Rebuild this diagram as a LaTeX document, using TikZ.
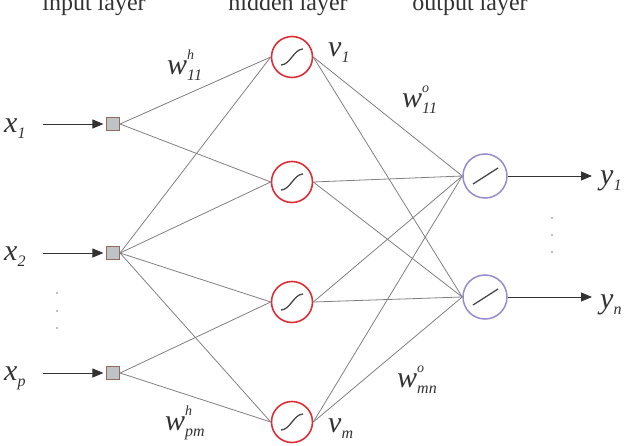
\documentclass[tikz,border=0pt]{standalone}
\usepackage{fontspec}
\setmainfont{Liberation Serif}
\usetikzlibrary{arrows.meta}
\definecolor{lgray}{RGB}{128,128,128}
\definecolor{hred}{RGB}{225,45,55}
\definecolor{olav}{RGB}{150,140,205}
\definecolor{sqfill}{RGB}{190,195,200}
\definecolor{sqdraw}{RGB}{150,105,95}
\definecolor{txt}{RGB}{50,50,50}
\newcommand\wlab[3]{\fontsize{30}{30}\selectfont\itshape #1\makebox[0pt][l]{\raisebox{15pt}{\fontsize{14}{14}\selectfont #2}}\raisebox{-6pt}{\fontsize{16}{16}\selectfont #3}}
\newcommand\slab[2]{\fontsize{30}{30}\selectfont\itshape #1\raisebox{-6pt}{\fontsize{16}{16}\selectfont #2}}
\begin{document}
\begin{tikzpicture}[x=1pt,y=-1pt,
  conn/.style={draw=lgray,line width=0.8pt},
  insq/.style={draw=sqdraw,fill=sqfill,line width=1.1pt,minimum size=13pt,inner sep=0pt},
  hid/.style={circle,draw=hred,line width=1.6pt,minimum size=41pt,inner sep=0pt},
  outn/.style={circle,draw=olav,line width=1.5pt,minimum size=44pt,inner sep=0pt},
  arr/.style={draw=txt,line width=0.9pt,-{Triangle[length=11pt,width=9pt]}},
  lab/.style={anchor=base west,inner sep=0pt,text=txt},
  ttl/.style={anchor=base,inner sep=0pt,text=txt,font=\fontsize{24}{24}\selectfont},
  dotm/.style={circle,fill=lgray,inner sep=0pt,minimum size=1.6pt},
  sig/.style={draw=txt!90,line width=1.3pt}]
\useasboundingbox (0,0) rectangle (636,446);
% titles
\node[ttl] (t1) at (94,11) {input layer};
\node[ttl] (t2) at (288,11) {hidden layer};
\node[ttl] (t3) at (470,11) {output layer};
% input nodes
\node[insq] (in1) at (113,124) {};
\node[insq] (in2) at (113,253) {};
\node[insq] (in3) at (113,373) {};
% hidden nodes
\node[hid] (h1) at (292,57) {};
\node[hid] (h2) at (292,182) {};
\node[hid] (h3) at (292,302) {};
\node[hid] (h4) at (292,422) {};
% output nodes
\node[outn] (o1) at (485,176) {};
\node[outn] (o2) at (485,297) {};
% input -> hidden connections
\foreach \i/\h in {in1/h1,in1/h2,in2/h1,in2/h2,in2/h3,in2/h4,in3/h3,in3/h4}{
  \draw[conn] (\i.east) -- (\h.west);
}
% hidden -> output connections
\foreach \h in {h1,h2,h3,h4}{
  \foreach \o in {o1,o2}{
    \draw[conn] (\h.east) -- (\o.west);
  }
}
% activation symbols
\foreach \h in {h1,h2,h3,h4}{
  \draw[sig] ([shift={(-11,8)}]\h.center) .. controls +(9,0) and +(-9,0) .. ([shift={(11,-8)}]\h.center);
}
\foreach \o in {o1,o2}{
  \draw[sig] ([shift={(-12,8)}]\o.center) -- ([shift={(13,-8)}]\o.center);
}
% input arrows
\coordinate (ia1) at (43,124);
\coordinate (ia2) at (43,253);
\coordinate (ia3) at (43,373);
\draw[arr,shorten >=2.5pt] (ia1) -- (in1.west);
\draw[arr,shorten >=2.5pt] (ia2) -- (in2.west);
\draw[arr,shorten >=2.5pt] (ia3) -- (in3.west);
% output arrows
\coordinate (oa1) at (592,176);
\coordinate (oa2) at (592,297);
\draw[arr] (o1.east) -- (oa1);
\draw[arr] (o2.east) -- (oa2);
% labels
\node[lab] (lx1) at (4,133) {\slab{x}{1}};
\node[lab] (lx2) at (4,260) {\slab{x}{2}};
\node[lab] (lxp) at (4,380) {\slab{x}{p}};
\node[lab] (ly1) at (600,185) {\slab{y}{1}};
\node[lab] (lyn) at (600,308) {\slab{y}{n}};
\node[lab] (lv1) at (328,57) {\slab{v}{1}};
\node[lab] (lvm) at (328,432) {\slab{v}{m}};
\node[lab] (lwh11) at (167,75) {\wlab{w}{h}{11}};
\node[lab] (lwhpm) at (165,430) {\wlab{w}{h}{pm}};
\node[lab] (lwo11) at (402,108) {\wlab{w}{o}{11}};
\node[lab] (lwomn) at (397,387) {\wlab{w}{o}{mn}};
% dots
\node[dotm] (d1) at (57,293) {};
\node[dotm] (d2) at (57,311) {};
\node[dotm] (d3) at (57,328) {};
\node[dotm] (d4) at (552,218) {};
\node[dotm] (d5) at (552,235) {};
\node[dotm] (d6) at (552,252) {};
\end{tikzpicture}
\end{document}
